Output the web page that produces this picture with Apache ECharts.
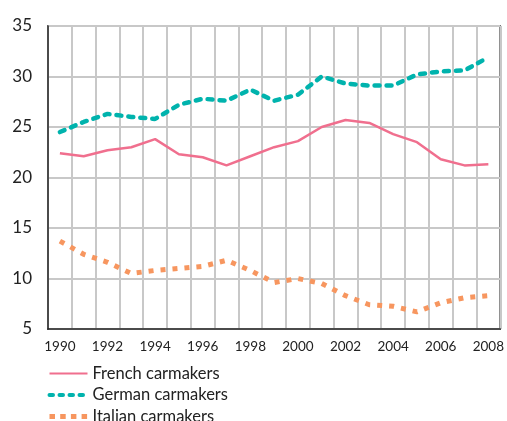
<!DOCTYPE html>
<html>
<head>
<meta charset="utf-8">
<script src="https://cdn.jsdelivr.net/npm/echarts@6/dist/echarts.min.js"></script>
<style>
  html, body { margin: 0; padding: 0; background: #fff; }
  #chart { width: 507px; height: 421px; }
</style>
</head>
<body>
<div id="chart"></div>
<script>
  // years on the x axis
  var years = ['1990', '1991', '1992', '1993', '1994', '1995', '1996', '1997', '1998', '1999',
    '2000', '2001', '2002', '2003', '2004', '2005', '2006', '2007', '2008'];

  var french = [22.4, 22.1, 22.7, 23.0, 23.8, 22.3, 22.0, 21.2, 22.1, 23.0,
    23.6, 25.0, 25.7, 25.4, 24.3, 23.5, 21.8, 21.2, 21.3];
  var german = [24.5, 25.5, 26.3, 26.0, 25.8, 27.2, 27.8, 27.6, 28.7, 27.6,
    28.2, 30.0, 29.3, 29.1, 29.1, 30.2, 30.5, 30.6, 31.9];
  var italian = [13.7, 12.4, 11.6, 10.5, 10.8, 11.0, 11.2, 11.8, 10.8, 9.6,
    10.0, 9.5, 8.3, 7.4, 7.25, 6.7, 7.6, 8.1, 8.3];

  var seriesNames = ['French carmakers', 'German carmakers', 'Italian carmakers'];

  var chart = echarts.init(document.getElementById('chart'));
  var font = 'Lato';
  var gridColor = '#c8c8c8';

  chart.setOption({
    animation: false,
    textStyle: { fontFamily: font },
    grid: {
      left: 48,
      top: 26,
      right: 6,
      bottom: 92,
      show: true,
      borderColor: '#222',
      borderWidth: 1.5
    },
    legend: {
      orient: 'vertical',
      left: 42,
      top: 360,
      height: 120,
      itemWidth: 38,
      itemHeight: 14,
      itemGap: 4.5,
      itemStyle: { opacity: 0, borderWidth: 0 },
      textStyle: { fontSize: 16.5, color: '#222', fontFamily: font },
      data: [
        { name: seriesNames[0] },
        { name: seriesNames[1], lineStyle: { width: 4, type: [3.5, 6.5], cap: 'round' } },
        { name: seriesNames[2], lineStyle: { width: 5, type: [5.5, 5.2], cap: 'butt' } }
      ]
    },
    xAxis: {
      type: 'category',
      data: years,
      boundaryGap: true,
      axisLine: { lineStyle: { color: '#222', width: 1.5 } },
      axisTick: { show: false },
      axisLabel: { interval: 1, fontSize: 13.5, color: '#222', margin: 11 },
      splitLine: { show: true, interval: 0, lineStyle: { color: gridColor, width: 2 } }
    },
    yAxis: {
      type: 'value',
      min: 5,
      max: 35,
      interval: 5,
      axisLine: { show: true, lineStyle: { color: '#222', width: 1.5 } },
      axisTick: { show: false },
      axisLabel: { fontSize: 17, color: '#222', margin: 16, padding: [0, 0, 6, 0] },
      splitLine: { lineStyle: { color: gridColor, width: 2 } }
    },
    series: [
      {
        name: seriesNames[0],
        type: 'line',
        data: french,
        symbol: 'none',
        lineStyle: { color: '#f06f8e', width: 2.5 },
        itemStyle: { color: '#f06f8e' }
      },
      {
        name: seriesNames[1],
        type: 'line',
        data: german,
        symbol: 'none',
        lineStyle: { color: '#00b3ad', width: 4.5, type: [5, 7], cap: 'round' },
        itemStyle: { color: '#00b3ad' }
      },
      {
        name: seriesNames[2],
        type: 'line',
        data: italian,
        symbol: 'none',
        lineStyle: { color: '#f7965f', width: 5, type: [5, 7], cap: 'butt' },
        itemStyle: { color: '#f7965f' }
      }
    ]
  });
</script>
</body>
</html>
